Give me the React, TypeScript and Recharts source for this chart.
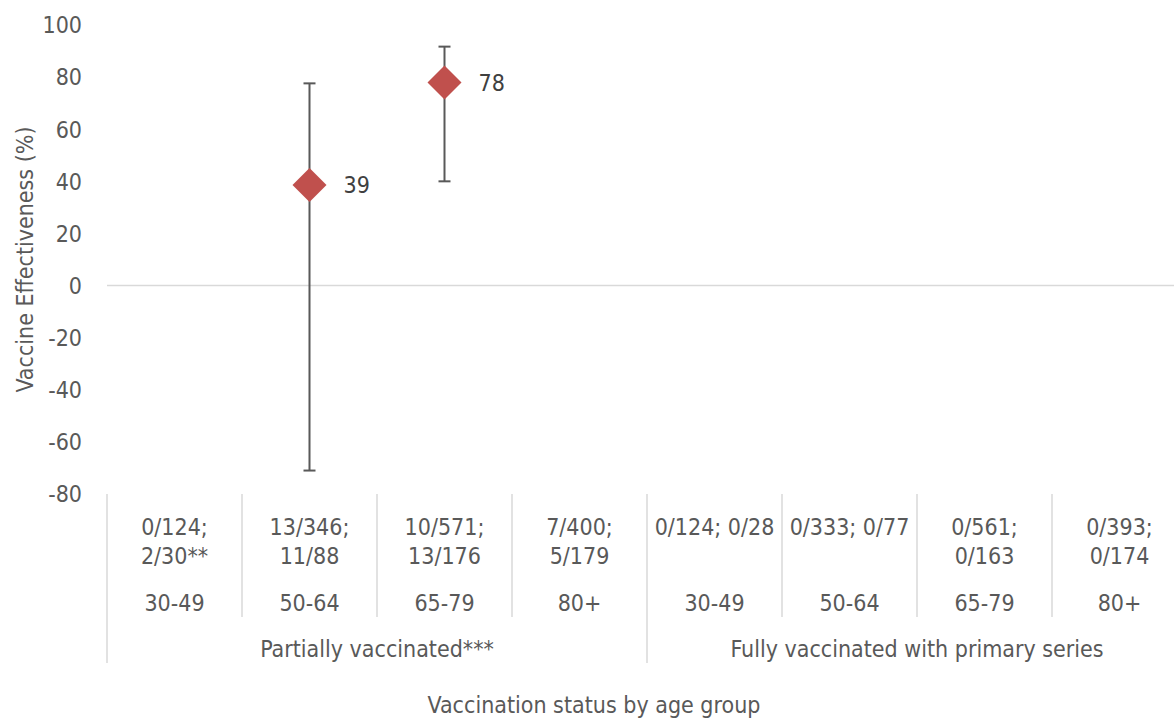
import React from 'react';
import {
  ComposedChart,
  Scatter,
  XAxis,
  YAxis,
  ErrorBar,
  LabelList,
  ReferenceLine,
  Label,
} from 'recharts';

const COUNTS = [
  ['0/124;', '2/30**'],
  ['13/346;', '11/88'],
  ['10/571;', '13/176'],
  ['7/400;', '5/179'],
  ['0/124; 0/28'],
  ['0/333; 0/77'],
  ['0/561;', '0/163'],
  ['0/393;', '0/174'],
];
const AGES = ['30-49', '50-64', '65-79', '80+', '30-49', '50-64', '65-79', '80+'];
const GROUPS = ['Partially vaccinated***', 'Fully vaccinated with primary series'];
const GROUP_OF = [0, 0, 0, 0, 1, 1, 1, 1];
const VE = [null, 38.6, 77.9, null, null, null, null, null];
const CI_LOW = [null, -71, 40, null, null, null, null, null];
const CI_HIGH = [null, 77.6, 91.7, null, null, null, null, null];
const Y_TICKS = [-80, -60, -40, -20, 0, 20, 40, 60, 80, 100];

const FONT = "'DejaVu Sans Condensed', 'DejaVu Sans', sans-serif";
const TEXT = '#595959';
const LINE = '#d9d9d9';

const CHART_W = 1200;
const CHART_H = 719;
const MARGIN = { top: 25, right: 13, left: 0, bottom: 0 };
const Y_W = 107;
const BAND = (CHART_W - MARGIN.left - MARGIN.right - Y_W) / AGES.length;

const data = AGES.map((age, i) => ({
  key: `${GROUP_OF[i]}-${age}`,
  ve: VE[i],
  err: VE[i] == null ? null : [VE[i]! - CI_LOW[i]!, CI_HIGH[i]! - VE[i]!],
}));

const CategoryTick = (props: any) => {
  const { x, y, index } = props;
  const left = x - BAND / 2;
  const groupStart = index === 0 || index === 4;
  const lines = COUNTS[index];
  return (
    <g>
      <line x1={left} y1={y} x2={left} y2={y + (groupStart ? 169 : 123)} stroke={LINE} strokeWidth={1.5} />
      {index === AGES.length - 1 && (
        <line x1={x + BAND / 2} y1={y} x2={x + BAND / 2} y2={y + 169} stroke={LINE} strokeWidth={1.5} />
      )}
      {lines.map((t, k) => (
        <text key={k} x={x} y={y + 41 + k * 29} textAnchor="middle" fill={TEXT} fontSize={23} fontFamily={FONT}>
          {t}
        </text>
      ))}
      <text x={x} y={y + 117} textAnchor="middle" fill={TEXT} fontSize={23} fontFamily={FONT}>
        {AGES[index]}
      </text>
      {(index === 1 || index === 5) && (
        <text x={x + BAND / 2} y={y + 163} textAnchor="middle" fill={TEXT} fontSize={23} fontFamily={FONT}>
          {GROUPS[GROUP_OF[index]]}
        </text>
      )}
    </g>
  );
};

const ValueTick = (props: any) => {
  const { x, y, payload } = props;
  return (
    <text x={x} y={y} dy="0.36em" textAnchor="end" fill={TEXT} fontSize={23} fontFamily={FONT}>
      {payload.value}
    </text>
  );
};

const Diamond = (props: any) => {
  const { cx, cy, payload } = props;
  if (payload?.ve == null || !Number.isFinite(cx) || !Number.isFinite(cy)) return null;
  const h = 17;
  return (
    <polygon
      points={`${cx},${cy - h} ${cx + h},${cy} ${cx},${cy + h} ${cx - h},${cy}`}
      fill="#C0504D"
    />
  );
};

const PointLabel = (props: any) => {
  const { x, y, width, height, value } = props;
  if (value == null) return null;
  const cx = x + (width || 0) / 2;
  const cy = y + (height || 0) / 2;
  return (
    <text x={cx + 34} y={cy} dy="0.36em" textAnchor="start" fill="#404040" fontSize={23} fontFamily={FONT}>
      {Math.round(value)}
    </text>
  );
};

export default function App() {
  return (
    <div
      style={{
        position: 'absolute',
        left: 0,
        top: 0,
        width: 1174,
        height: 719,
        overflow: 'hidden',
        background: '#fff',
        fontFamily: FONT,
      }}
    >
      <ComposedChart width={CHART_W} height={CHART_H} data={data} margin={MARGIN}>
        <XAxis
          dataKey="key"
          type="category"
          scale="band"
          interval={0}
          axisLine={false}
          tickLine={false}
          tickSize={0}
          tickMargin={0}
          height={225}
          tick={<CategoryTick />}
        >
          <Label
            position="insideBottom"
            content={(p: any) => (
              <text
                x={594}
                y={p.viewBox.y + p.viewBox.height - 6}
                textAnchor="middle"
                fill={TEXT}
                fontSize={23}
                fontFamily={FONT}
              >
                Vaccination status by age group
              </text>
            )}
          />
        </XAxis>
        <YAxis
          type="number"
          domain={[-80, 100]}
          ticks={Y_TICKS}
          interval={0}
          axisLine={false}
          tickLine={false}
          tickSize={0}
          tickMargin={25}
          width={Y_W}
          tick={<ValueTick />}
        >
          <Label
            position="insideLeft"
            content={(p: any) => {
              const cy = p.viewBox.y + p.viewBox.height / 2;
              return (
                <text
                  x={33}
                  y={cy}
                  transform={`rotate(-90, 33, ${cy})`}
                  textAnchor="middle"
                  fill={TEXT}
                  fontSize={23}
                  fontFamily={FONT}
                >
                  Vaccine Effectiveness (%)
                </text>
              );
            }}
          />
        </YAxis>
        <ReferenceLine y={0} stroke={LINE} strokeWidth={1.5} ifOverflow="extendDomain" />
        <Scatter dataKey="ve" shape={<Diamond />} isAnimationActive={false}>
          <ErrorBar dataKey="err" direction="y" width={6} stroke="#595959" strokeWidth={2} />
          <LabelList dataKey="ve" content={<PointLabel />} />
        </Scatter>
      </ComposedChart>
    </div>
  );
}
